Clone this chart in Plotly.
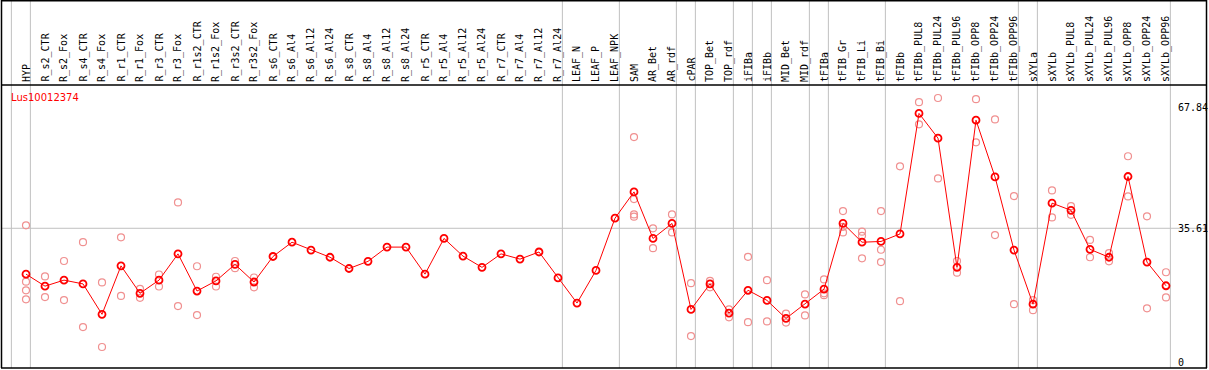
import plotly.graph_objects as go

title_text = "Lus10012374"

categories = [
    "HYP", "R_s2_CTR", "R_s2_Fox", "R_s4_CTR", "R_s4_Fox", "R_r1_CTR", "R_r1_Fox",
    "R_r3_CTR", "R_r3_Fox", "R_r1s2_CTR", "R_r1s2_Fox", "R_r3s2_CTR", "R_r3s2_Fox",
    "R_s6_CTR", "R_s6_Al4", "R_s6_Al12", "R_s6_Al24", "R_s8_CTR", "R_s8_Al4",
    "R_s8_Al12", "R_s8_Al24", "R_r5_CTR", "R_r5_Al4", "R_r5_Al12", "R_r5_Al24",
    "R_r7_CTR", "R_r7_Al4", "R_r7_Al12", "R_r7_Al24", "LEAF_N", "LEAF_P", "LEAF_NPK",
    "SAM", "AR_Bet", "AR_rdf", "cPAR", "TOP_Bet", "TOP_rdf", "iFIBa", "iFIBb",
    "MID_Bet", "MID_rdf", "tFIBa", "tFIB_Gr", "tFIB_Li", "tFIB_Bi", "tFIBb",
    "tFIBb_PUL8", "tFIBb_PUL24", "tFIBb_PUL96", "tFIBb_OPP8", "tFIBb_OPP24",
    "tFIBb_OPP96", "sXYLa", "sXYLb", "sXYLb_PUL8", "sXYLb_PUL24", "sXYLb_PUL96",
    "sXYLb_OPP8", "sXYLb_OPP24", "sXYLb_OPP96",
]

means = [
    23.4, 20.2, 21.8, 20.8, 12.7, 25.6, 18.3, 21.8, 28.8, 18.9, 21.6, 26.0, 21.3,
    28.1, 31.9, 29.8, 27.9, 24.9, 26.8, 30.6, 30.6, 23.4, 32.9, 28.2, 25.2,
    28.8, 27.4, 29.3, 22.4, 15.7, 24.4, 38.3,
    45.3, 32.9, 36.9, 14.0, 20.8, 13.0, 19.1, 16.4, 11.6, 15.4, 19.4,
    36.9, 31.9, 32.1, 34.1, 66.2, 59.6, 25.2, 64.4, 49.3, 29.8,
    15.4, 42.3, 40.4, 30.0, 27.9, 49.4, 26.6, 20.3,
]

replicates = [
    [36.4, 21.4, 19.1, 16.7], [22.8, 17.3], [26.9, 16.5], [31.9, 9.3], [21.2, 4.0],
    [33.2, 17.6], [19.5, 17.1], [23.3, 20.1], [42.5, 14.9], [25.5, 12.5],
    [22.7, 20.1], [26.9, 25.0], [22.5, 19.9],
    [], [], [], [], [], [], [], [], [], [], [], [], [], [], [], [], [], [], [],
    [59.9, 43.4, 39.3, 38.7], [35.6, 30.3], [39.3, 34.5], [21.0, 6.9],
    [21.6, 19.9], [14.0, 11.9], [28.0, 10.6], [21.8, 10.8], [12.9, 10.5],
    [18.0, 12.4], [22.0, 18.3, 17.8], [40.2, 36.0, 34.5], [34.7, 33.6, 27.6],
    [40.2, 29.9, 26.6], [52.1, 16.2], [69.2, 63.3], [70.3, 48.9], [26.9, 23.8],
    [70.0, 58.5], [64.6, 33.8], [44.2, 15.4], [16.5, 13.8], [45.7, 38.5],
    [41.5, 39.2], [32.5, 27.9], [29.0, 26.8], [54.8, 44.1], [38.8, 14.3],
    [23.9, 17.2],
]

group_ends = [-1, 0, 28, 31, 34, 35, 37, 38, 39, 41, 42, 45, 52, 53, 60]
y_labels = ["67.84", "35.61", "0"]
y_grid = [35.61]

# ---- geometry (pixels) ----
W, H = 1209, 370
L, R, T, B = 2, 1206, 85, 368
PW, PH = R - L, B - T

def px_x(p):
    return (p - L) / PW

def px_y(p):
    return (B - p) / PH

x_idx = list(range(len(categories)))
rx, ry = [], []
for i, vals in enumerate(replicates):
    for v in vals:
        rx.append(i)
        ry.append(v)

fig = go.Figure()
fig.add_trace(go.Scatter(
    x=rx, y=ry, mode="markers",
    marker=dict(symbol="circle-open", size=7, color="#f09090", line=dict(width=1.2, color="#f09090")),
    hoverinfo="skip", showlegend=False, cliponaxis=False,
))
fig.add_trace(go.Scatter(
    x=x_idx, y=means, mode="lines+markers",
    line=dict(color="#ff0000", width=1),
    marker=dict(symbol="circle-open", size=7, color="#ff0000", line=dict(width=1.8, color="#ff0000")),
    showlegend=False, cliponaxis=False,
))

shapes = []
for k in group_ends:
    shapes.append(dict(type="line", xref="x", yref="paper", x0=k + 0.23, x1=k + 0.23,
                       y0=0, y1=px_y(0), line=dict(color="#c0c0c0", width=1), layer="below"))
for g in y_grid:
    shapes.append(dict(type="line", xref="paper", yref="y", x0=0, x1=1, y0=g, y1=g,
                       line=dict(color="#c0c0c0", width=1), layer="below"))
blk = dict(color="#000000", width=1.5)
shapes += [
    dict(type="line", xref="paper", yref="paper", x0=px_x(1), x1=px_x(1207), y0=px_y(0.75), y1=px_y(0.75), line=blk),
    dict(type="line", xref="paper", yref="paper", x0=px_x(1), x1=px_x(1207), y0=px_y(85), y1=px_y(85), line=blk),
    dict(type="line", xref="paper", yref="paper", x0=px_x(1), x1=px_x(1207), y0=px_y(368), y1=px_y(368), line=blk),
    dict(type="line", xref="paper", yref="paper", x0=px_x(1.5), x1=px_x(1.5), y0=px_y(0), y1=px_y(368), line=blk),
    dict(type="line", xref="paper", yref="paper", x0=px_x(1206.5), x1=px_x(1206.5), y0=px_y(0), y1=px_y(368), line=blk),
]

annotations = []
for i, c in enumerate(categories):
    annotations.append(dict(x=i, xref="x", y=px_y(84), yref="paper", text=c, textangle=-90,
                            showarrow=False, xanchor="center", yanchor="bottom",
                            font=dict(family="DejaVu Sans Mono", size=10, color="#000000")))
for t in y_labels:
    annotations.append(dict(x=px_x(1176), xref="paper", y=float(t), yref="y", text=t,
                            showarrow=False, xanchor="left", yanchor="middle",
                            font=dict(family="DejaVu Sans Mono", size=10, color="#000000")))
annotations.append(dict(x=px_x(9), xref="paper", y=px_y(97.5), yref="paper", text=title_text,
                        showarrow=False, xanchor="left", yanchor="middle",
                        font=dict(family="DejaVu Sans", size=10, color="#ff0000")))

x0 = (L - 26) / 19
x1 = (R - 26) / 19
y0 = (362 - B) / 3.755
y1 = (362 - T) / 3.755

fig.update_layout(
    width=W, height=H,
    margin=dict(l=L, r=W - R, t=T, b=H - B, pad=0, autoexpand=False),
    paper_bgcolor="white", plot_bgcolor="white",
    xaxis=dict(range=[x0, x1], visible=False, fixedrange=True),
    yaxis=dict(range=[y0, y1], visible=False, fixedrange=True),
    shapes=shapes, annotations=annotations, showlegend=False,
)

fig.write_html(
    "out.html",
    config={"displayModeBar": False},
    post_script="document.body.style.margin='0';document.body.style.overflow='hidden';window.dispatchEvent(new Event('resize'));",
)
